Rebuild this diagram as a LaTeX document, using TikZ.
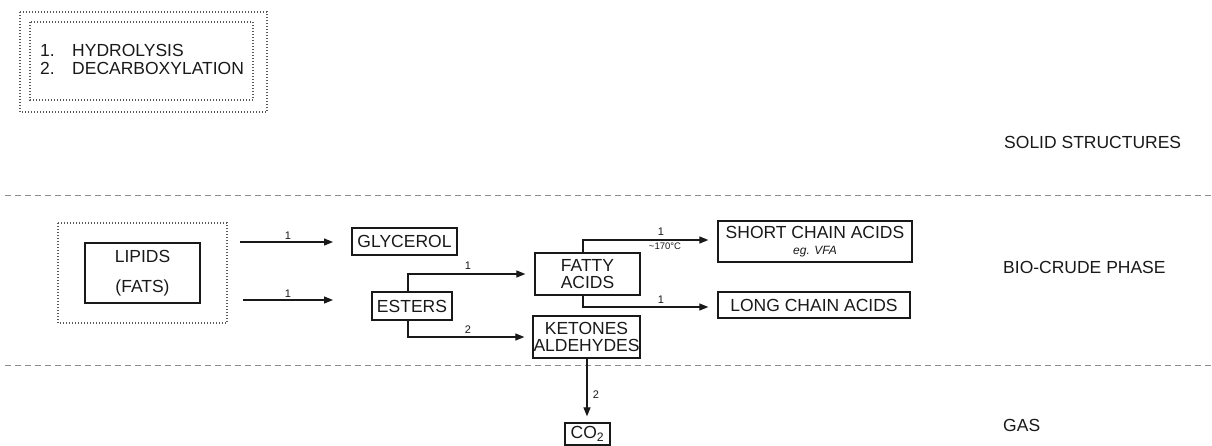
\documentclass[tikz,border=0pt]{standalone}
\usepackage{fontspec}
\setmainfont{Liberation Sans}
\usetikzlibrary{arrows.meta}
\begin{document}
\begin{tikzpicture}[x=1pt,y=-1pt,
  box/.style={draw=black!90,line width=1.3pt,inner sep=0pt,align=center,text=black!90,
    font=\fontsize{17.5}{16.5}\selectfont},
  plain/.style={inner sep=0pt,text=black!90,font=\fontsize{17.5}{18}\selectfont},
  lbl/.style={inner sep=0pt,text=black!90,font=\fontsize{11}{12}\selectfont},
  arr/.style={draw=black!90,line width=1.2pt,-{Triangle[length=9pt,width=7pt]}},
  sep/.style={draw=black!45,line width=1pt,dash pattern=on 6pt off 4pt},
  dotbox/.style={draw=black!65,line width=1.1pt,dash pattern=on 1pt off 2pt}
]
\useasboundingbox (0,0) rectangle (1212,445);

% legend
\draw[dotbox] (20,12) rectangle (267,112);
\draw[dotbox] (30,22) rectangle (253,100);
\node[plain,anchor=west] (n1) at (40,50) {1.};
\node[plain,anchor=west] (hyd) at (72,50) {HYDROLYSIS};
\node[plain,anchor=west] (n2) at (40,68) {2.};
\node[plain,anchor=west] (dec) at (72,68) {DECARBOXYLATION};

% phase labels
\node[plain,anchor=west] (solid) at (1004,142) {SOLID STRUCTURES};
\node[plain,anchor=west] (bio) at (1003,267) {BIO-CRUDE PHASE};
\node[plain,anchor=west] (gas) at (1003,425) {GAS};

% separators
\draw[sep] (5,195) -- (1212,195);
\draw[sep] (5,365) -- (1212,365);

% lipids
\draw[dotbox] (58,223) rectangle (227,323);
\node[box,minimum width=115pt,minimum height=60pt,font=\fontsize{17.5}{30}\selectfont] (lip) at (142.5,273) {LIPIDS\\(FATS)};

% boxes
\node[box,minimum width=105pt,minimum height=27pt] (gly) at (404.5,241.5) {GLYCEROL};
\node[box,minimum width=80pt,minimum height=28pt] (est) at (412,306) {ESTERS};
\node[box,minimum width=105pt,minimum height=42pt] (fat) at (587.5,274) {FATTY\\ACIDS};
\node[box,minimum width=107pt,minimum height=42pt] (ket) at (586.5,337) {KETONES\\ALDEHYDES};
\node[box,minimum width=194pt,minimum height=41pt] (sca) at (815,241.5) {SHORT CHAIN ACIDS\\[-1pt]{\fontsize{12}{12}\selectfont\itshape eg. VFA}};
\node[box,minimum width=192pt,minimum height=26pt] (lca) at (814,305) {LONG CHAIN ACIDS};
\node[box,minimum width=45pt,minimum height=22pt] (co2) at (587.5,434) {CO\textsubscript{2}};

% lipids arrows
\coordinate (a1s) at (240,242);
\coordinate (a1e) at (333,242);
\coordinate (a2s) at (243,300);
\coordinate (a2e) at (333,300);
\draw[arr] (a1s) -- (a1e);
\draw[arr] (a2s) -- (a2e);
\node[lbl] (l1) at (288,235.5) {1};
\node[lbl] (l2) at (288,293.5) {1};

% esters connectors
\draw[arr,shorten >=9pt] (est.north -| 408,0) |- (fat.west);
\draw[arr,shorten >=8pt] (est.south -| 408,0) |- (ket.west);
\node[lbl] (l3) at (468,265.5) {1};
\node[lbl] (l4) at (468,329.5) {2};

% fatty acids connectors
\draw[arr,shorten >=9pt] (fat.north -| 583,0) |- (sca.west |- 0,240);
\draw[arr,shorten >=9pt] (fat.south -| 583,0) |- (lca.west |- 0,307);
\node[lbl] (l5) at (661,231.5) {1};
\node[lbl,font=\fontsize{9.5}{10}\selectfont] (l6) at (665,246.5) {\textasciitilde170°C};
\node[lbl] (l7) at (661,299.5) {1};

% ketones to CO2
\draw[arr,shorten >=6pt] (ket.south -| 587,0) -- (co2.north -| 587,0);
\node[lbl] (l8) at (596,395) {2};
\end{tikzpicture}
\end{document}
